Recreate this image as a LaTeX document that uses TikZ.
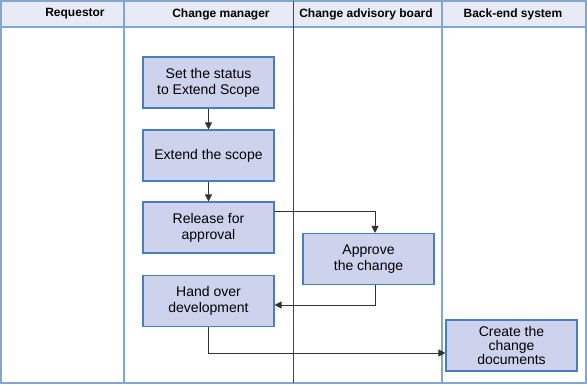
\documentclass[tikz,border=0pt]{standalone}
\usepackage{fontspec}
\setmainfont{Liberation Sans}
\usetikzlibrary{arrows.meta}
\definecolor{hdrfill}{HTML}{E8EAF6}
\definecolor{boxfill}{HTML}{CDD3EC}
\definecolor{boxline}{HTML}{4A7CC0}
\definecolor{lanelight}{HTML}{7FA7D2}
\definecolor{lanedark}{HTML}{1F4E8C}
\definecolor{arrowc}{HTML}{333333}
\begin{document}
\begin{tikzpicture}[x=1pt,y=-1pt,
  stepbox/.style={draw=boxline, line width=1.1pt, fill=boxfill, minimum width=131pt, minimum height=51pt, align=center, font=\fontsize{14}{16}\selectfont, inner sep=2pt},
  hdr/.style={font=\fontsize{12}{14}\selectfont\bfseries},
  conn/.style={draw=arrowc, line width=1pt, -{Triangle[length=7pt,width=7pt]}}]
\useasboundingbox (0,0) rectangle (587,385);
% header
\fill[hdrfill] (1,1) rectangle (586,27);
\draw[lanelight, line width=1.5pt] (1,27) -- (586,27);
\draw[lanelight, line width=1.5pt] (1,1) rectangle (586,383);
\draw[lanelight, line width=1.8pt] (124,1) -- (124,383);
\draw[lanedark, line width=0.9pt] (293,1) -- (293,383);
\draw[lanelight, line width=1.8pt] (442,1) -- (442,383);
\node[hdr] (h1) at (75,14) {Requestor};
\node[hdr] (h2) at (221,14) {Change manager};
\node[hdr] (h3) at (366,14) {Change advisory board};
\node[hdr] (h4) at (513,14) {Back-end system};
% boxes
\node[stepbox] (s1) at (208.5,82.5) {Set the status\\to Extend Scope};
\node[stepbox] (s2) at (208.5,155.5) {Extend the scope};
\node[stepbox] (s3) at (208.5,227.5) {Release for\\approval};
\node[stepbox] (s4) at (368.5,259) {Approve\\the change};
\node[stepbox] (s5) at (208.5,301) {Hand over\\development};
\node[stepbox, font=\fontsize{14}{14}\selectfont] (s6) at (511.5,345.5) {Create the\\change\\documents};
% connectors
\draw[conn] (s1.south) -- (s2.north);
\draw[conn] (s2.south) -- (s3.north);
\coordinate (c1) at (375,212);
\draw[conn] (s3.east |- c1) -- (c1) -- (c1 |- s4.north);
\coordinate (c2) at (375,305);
\draw[conn] (c2 |- s4.south) -- (c2) -- (s5.east |- c2);
\coordinate (c3) at (208.5,353);
\draw[conn] (s5.south) -- (c3) -- (s6.west |- c3);
\end{tikzpicture}
\end{document}
